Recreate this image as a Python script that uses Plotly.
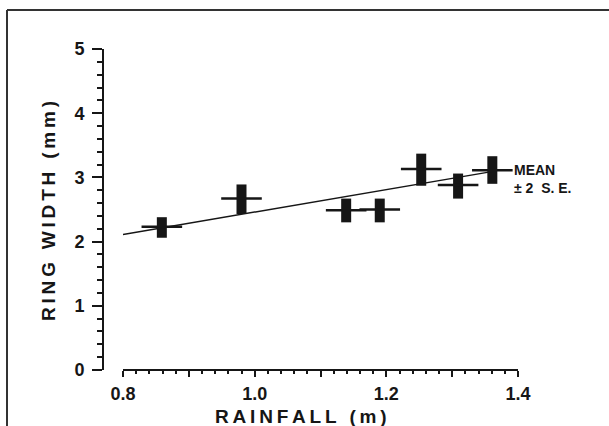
import plotly.graph_objects as go

# ---- data ----
rainfall = [0.859, 0.980, 1.139, 1.190, 1.253, 1.309, 1.361]      # m
ring_mean = [2.23, 2.67, 2.49, 2.50, 3.13, 2.88, 3.11]            # mm
ring_upper = [2.38, 2.89, 2.67, 2.67, 3.37, 3.06, 3.33]           # mean + 2 SE
ring_lower = [2.06, 2.43, 2.30, 2.30, 2.87, 2.67, 2.90]           # mean - 2 SE
fit_x = [0.80, 1.36]
fit_y = [2.11, 3.09]
x_range = [0.8, 1.4]
y_range = [0, 5]
x_tick_vals = [0.8, 0.9, 1.0, 1.1, 1.2, 1.3, 1.4]
x_tick_text = ["0.8", "", "1.0", "", "1.2", "", "1.4"]
x_fine_step = 0.02
y_major_step = 1
y_minor_step = 0.2

INK = "#161616"
FONT = "Liberation Sans, Arial, Helvetica, sans-serif"


def spaced(s, sep="\u2009"):
    return sep.join(s)


err_plus = [u - m for u, m in zip(ring_upper, ring_mean)]
err_minus = [m - l for m, l in zip(ring_mean, ring_lower)]

fig = go.Figure()

# regression line, on the overlay x axis that carries the line, labels, 0.1 ticks
fig.add_trace(go.Scatter(
    x=fit_x, y=fit_y, mode="lines", xaxis="x2", yaxis="y",
    line=dict(color=INK, width=1.5),
    showlegend=False, hoverinfo="skip",
))

# means (horizontal dash) with +/- 2 SE (thick bar)
fig.add_trace(go.Scatter(
    x=rainfall, y=ring_mean, mode="markers", xaxis="x", yaxis="y",
    marker=dict(symbol="line-ew", size=29, color=INK,
                line=dict(color=INK, width=2.5)),
    error_y=dict(type="data", symmetric=False, array=err_plus,
                 arrayminus=err_minus, thickness=10, width=0, color=INK),
    showlegend=False,
))

W, H = 609, 426
L, R, T, B = 103, 91, 49, 52
pw, ph = W - L - R, H - T - B
FINE_LEN = 4  # px, fine ticks hang below the axis line


def px(xp):
    return (xp - L) / pw


def py(yp):
    return (H - B - yp) / ph


x_domain = [px(123), 1]
axis_pos = FINE_LEN / ph   # paper position of the visible x axis line

fig.update_layout(
    width=W, height=H,
    margin=dict(l=L, r=R, t=T, b=B, pad=0, autoexpand=False),
    paper_bgcolor="white", plot_bgcolor="white",
    font=dict(family=FONT, color=INK, size=18, weight="bold"),
    # fine 0.02 ticks: invisible axis line a few px below, ticks pointing up
    xaxis=dict(
        range=x_range, domain=x_domain, anchor="free", position=0,
        showline=False, showgrid=False, zeroline=False, automargin=False,
        tickmode="linear", tick0=x_range[0], dtick=0.2,
        ticks="inside", ticklen=FINE_LEN, tickwidth=1.5, tickcolor=INK,
        showticklabels=False,
        minor=dict(tickmode="linear", tick0=x_range[0], dtick=x_fine_step,
                   ticks="inside", ticklen=FINE_LEN, tickwidth=1.5,
                   tickcolor=INK, showgrid=False),
    ),
    # visible x axis: line, longer 0.1 ticks and labels every 0.2
    xaxis2=dict(
        range=x_range, domain=x_domain, anchor="free", position=axis_pos,
        overlaying="x", matches="x",
        showline=True, linecolor=INK, linewidth=2,
        showgrid=False, zeroline=False, automargin=False,
        tickmode="array", tickvals=x_tick_vals, ticktext=x_tick_text,
        ticks="outside", ticklen=6, tickwidth=2, tickcolor=INK,
        ticklabelstandoff=1,
        tickfont=dict(family=FONT, size=18, color=INK, weight="bold"),
    ),
    yaxis=dict(
        range=y_range, domain=[axis_pos, 1], anchor="free", position=0,
        showline=True, linecolor=INK, linewidth=2,
        showgrid=False, zeroline=False, automargin=False,
        tickmode="linear", tick0=y_range[0], dtick=y_major_step,
        ticks="outside", ticklen=10, tickwidth=2, tickcolor=INK,
        ticklabelstandoff=4,
        tickfont=dict(family=FONT, size=18, color=INK, weight="bold"),
        minor=dict(tickmode="linear", tick0=y_range[0], dtick=y_minor_step,
                   ticks="outside", ticklen=5, tickwidth=1.5, tickcolor=INK,
                   showgrid=False),
    ),
    showlegend=False,
)

# axis titles
fig.add_annotation(
    text=spaced("RAINFALL (m)"), xref="paper", yref="paper",
    x=px(301), y=py(416), xanchor="center", yanchor="middle",
    showarrow=False, font=dict(family=FONT, size=19, color=INK, weight="bold"),
)
fig.add_annotation(
    text=spaced("RING WIDTH (mm)"), xref="paper", yref="paper",
    x=px(48), y=py(211), xanchor="center", yanchor="middle", textangle=-90,
    showarrow=False, font=dict(family=FONT, size=19, color=INK, weight="bold"),
)

# key labels next to last point
fig.add_annotation(
    text="MEAN<br>± 2  S. E.", xref="x", yref="y",
    x=rainfall[-1], y=ring_mean[-1], xanchor="left", yanchor="top",
    xshift=20, yshift=10, align="left", showarrow=False,
    font=dict(family=FONT, size=14, color=INK, weight="bold"),
)

# frame around the figure
fig.add_shape(type="line", xref="paper", yref="paper",
              x0=px(7), x1=px(W + 5), y0=py(10), y1=py(10),
              line=dict(color="#333", width=2))
fig.add_shape(type="line", xref="paper", yref="paper",
              x0=px(7), x1=px(7), y0=py(10), y1=py(H + 5),
              line=dict(color="#333", width=2))

fig.write_html(
    "out.html",
    config={"displayModeBar": False},
    post_script="document.body.style.margin='0';document.body.style.overflow='hidden';",
)
